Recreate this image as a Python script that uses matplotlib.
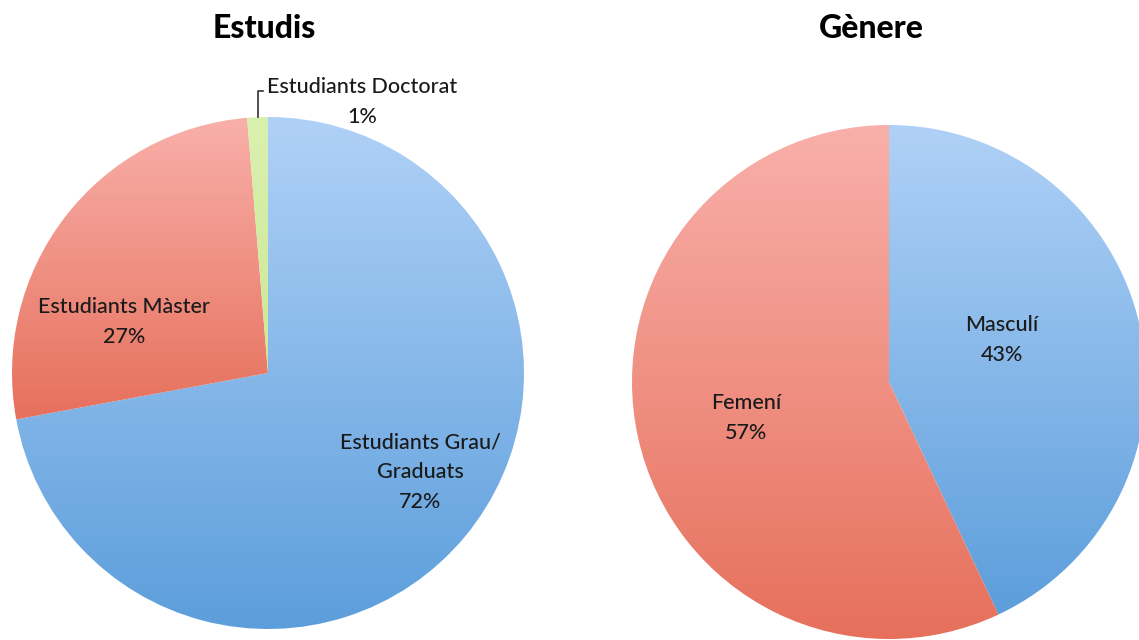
import matplotlib
matplotlib.use('Agg')
import matplotlib.pyplot as plt
import numpy as np
from matplotlib.colors import LinearSegmentedColormap

plt.rcParams['font.family'] = ['Lato', 'DejaVu Sans']

W, H = 1139, 640

# data
estudis_labels = ['Estudiants Grau/\nGraduats', 'Estudiants Màster', 'Estudiants Doctorat']
estudis_values = [72.1, 26.6, 1.3]
genere_labels = ['Masculí', 'Femení']
genere_values = [43, 57]

# gradient colours (top, bottom)
blue = ('#b0d1f7', '#5c9edb')
red = ('#f9b0aa', '#e6705c')
green = ('#d9f1ae', '#cde896')


def pie_axes(fig, cx, cy, r):
    # axes box in pixels so the unit circle lands on (cx, cy) with radius r
    ax = fig.add_axes([(cx - r) / W, (H - cy - r) / H, 2 * r / W, 2 * r / H])
    ax.set_xlim(-1, 1)
    ax.set_ylim(-1, 1)
    ax.axis('off')
    return ax


def px(cx, cy, r, x, y):
    return (x - cx) / r, (cy - y) / r


def gradient_pie(ax, values, colors):
    wedges, _ = ax.pie(values, startangle=90, counterclock=False, radius=1,
                       wedgeprops=dict(linewidth=0), frame=False)
    grad = np.linspace(0, 1, 256).reshape(-1, 1)
    for w, (top, bot) in zip(wedges, colors):
        w.set_alpha(0)
        # gradient runs over each slice's own height
        ext = w.get_path().get_extents()
        cmap = LinearSegmentedColormap.from_list('g', [top, bot])
        im = ax.imshow(grad, cmap=cmap, extent=(-1, 1, ext.y0, ext.y1), aspect='auto',
                       origin='upper', zorder=1)
        im.set_clip_path(w)
    ax.set_xlim(-1, 1)
    ax.set_ylim(-1, 1)
    return wedges


fig = plt.figure(figsize=(W / 100, H / 100), dpi=100)
fig.patch.set_facecolor('white')

txt = dict(fontsize=15.5, color='#1a1a1a', ha='center', va='center', zorder=5,
           linespacing=1.6, fontweight='medium')

# Estudis
lc = (268, 373, 256)
ax1 = pie_axes(fig, *lc)
w1 = gradient_pie(ax1, estudis_values, [blue, red, green])
ax1.text(*px(*lc, 420, 472), estudis_labels[0] + '\n%d%%' % round(estudis_values[0]), **txt)
ax1.text(*px(*lc, 124, 322), estudis_labels[1] + '\n%d%%' % round(estudis_values[1]), **txt)
ax1.text(*px(*lc, 362, 102), estudis_labels[2] + '\n%d%%' % round(estudis_values[2]), **txt)
# leader line for the small wedge
theta = np.deg2rad((w1[2].theta1 + w1[2].theta2) / 2)
ex, ey = np.cos(theta), np.sin(theta)
ly = px(*lc, 0, 91)[1]
lx = px(*lc, 263, 0)[0]
ax1.plot([ex, ex, lx], [ey, ly, ly], color='#333333', lw=1.2, zorder=4, clip_on=False)

# Gènere
rc = (889, 382, 257)
ax2 = pie_axes(fig, *rc)
gradient_pie(ax2, genere_values, [blue, red])
ax2.text(*px(*rc, 1002, 340), genere_labels[0] + '\n%d%%' % genere_values[0], **txt)
ax2.text(*px(*rc, 746, 418), genere_labels[1] + '\n%d%%' % genere_values[1], **txt)

fig.text(264 / W, 1 - 28 / H, 'Estudis', fontsize=23, fontweight='black',
         ha='center', va='center')
fig.text(871 / W, 1 - 28 / H, 'Gènere', fontsize=23, fontweight='black',
         ha='center', va='center')

fig.savefig('out.png', dpi=100)
